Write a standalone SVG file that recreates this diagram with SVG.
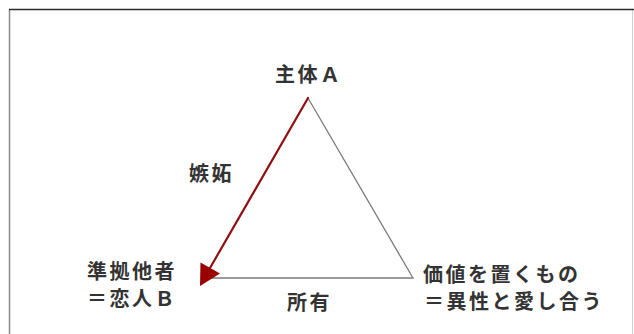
<svg xmlns="http://www.w3.org/2000/svg" width="634" height="334" viewBox="0 0 634 334">
  <style>
    .lbl { font-family: "Noto Sans CJK JP", "Noto Sans", sans-serif; font-size: 20px; font-weight: bold; fill: #333333; letter-spacing: 2.5px; }
    .edge { fill: none; stroke-linecap: round; }
  </style>
  <rect x="0" y="0" width="634" height="334" fill="#ffffff"/>
  <g id="frame">
    <line x1="9.5" y1="9.5" x2="9.5" y2="334" stroke="#8a8a8a" stroke-width="1.5"/>
    <line x1="632.5" y1="9.5" x2="632.5" y2="334" stroke="#d0d0d0" stroke-width="1"/>
    <line x1="9" y1="9.5" x2="634" y2="9.5" stroke="#2a2a2a" stroke-width="1.5"/>
  </g>
  <g id="connectors">
    <line class="edge" x1="308" y1="98" x2="413" y2="278" stroke="#7a7a7a" stroke-width="1.3"/>
    <line class="edge" x1="413" y1="278" x2="206" y2="278" stroke="#9a9a9a" stroke-width="2"/>
    <line class="edge" x1="308" y1="98" x2="210" y2="268" stroke="#8e1010" stroke-width="2.2"/>
    <polygon points="200,286 200.5,262.5 220,273.5" fill="#9a0000"/>
  </g>
  <g id="node-subject">
    <text class="lbl" x="275" y="82">主体Ａ</text>
  </g>
  <g id="label-jealousy">
    <text class="lbl" x="189" y="181">嫉妬</text>
  </g>
  <g id="node-other">
    <text class="lbl" x="87" y="279">準拠他者</text>
    <text class="lbl" x="87" y="306">＝恋人Ｂ</text>
  </g>
  <g id="label-possession">
    <text class="lbl" x="287" y="310">所有</text>
  </g>
  <g id="node-value">
    <text class="lbl" x="423" y="282">価値を置くもの</text>
    <text class="lbl" x="424" y="309">＝異性と愛し合う</text>
  </g>
</svg>
